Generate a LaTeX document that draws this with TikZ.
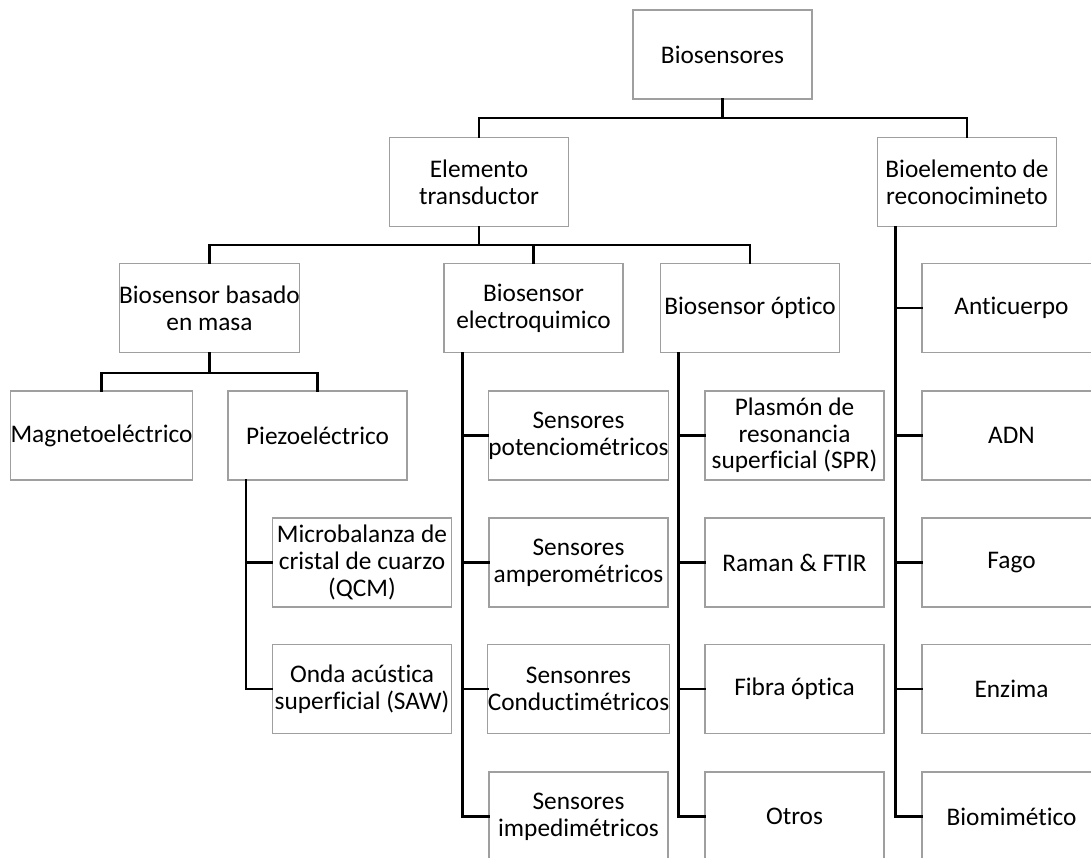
\documentclass[tikz,border=0pt]{standalone}
\usepackage{fontspec}
\setmainfont{Carlito}[Ligatures=NoCommon]
\begin{document}
\begin{tikzpicture}[x=0.75pt,y=-0.75pt,
  box/.style={draw=gray!75,line width=0.8pt,fill=white,minimum width=134.25pt,minimum height=66.75pt,
    inner sep=0pt,align=center,font=\fontsize{19}{20}\selectfont},
  conn/.style={line width=2.2pt,black,line cap=rect}]
\useasboundingbox (0,0) rectangle (1091,857);
\begin{scope}
\clip (0,0) rectangle (1091,857);
% level 0
\node[box] (bio) at (722.5,54.5) {Biosensores};
% level 1
\node[box] (elem) at (479,182) {Elemento\\transductor};
\node[box] (bioel) at (967,182) {Bioelemento de\\reconocimineto};
% level 2
\node[box] (masa) at (209.5,308) {Biosensor basado\\en masa};
\node[box] (elec) at (533.5,308) {Biosensor\\electroquimico};
\node[box] (opt) at (750,308) {Biosensor óptico};
\node[box] (anti) at (1011.5,308) {Anticuerpo};
% level 3
\node[box] (mag) at (101.5,435.5) {Magnetoeléctrico};
\node[box] (piezo) at (317.5,435.5) {Piezoeléctrico};
\node[box] (pot) at (578.5,435.5) {Sensores\\potenciométricos};
\node[box] (spr) at (794.5,435.5) {Plasmón de\\resonancia\\superficial (SPR)};
\node[box] (adn) at (1011.5,435.5) {ADN};
% level 4
\node[box] (qcm) at (362,562.5) {Microbalanza de\\cristal de cuarzo\\(QCM)};
\node[box] (amp) at (578.5,562.5) {Sensores\\amperométricos};
\node[box] (raman) at (794.5,562.5) {Raman \& FTIR};
\node[box] (fago) at (1011.5,562.5) {Fago};
% level 5
\node[box] (saw) at (362,689) {Onda acústica\\superficial (SAW)};
\node[box] (cond) at (578.5,689) {Sensonres\\Conductimétricos};
\node[box] (fibra) at (794.5,689) {Fibra óptica};
\node[box] (enz) at (1011.5,689) {Enzima};
% level 6
\node[box] (imp) at (578.5,816.5) {Sensores\\impedimétricos};
\node[box] (otros) at (794.5,816.5) {Otros};
\node[box] (biom) at (1011.5,816.5) {Biomimético};
\end{scope}
% junctions
\coordinate (j1) at (722.5,118);
\coordinate (j2) at (479,245);
\coordinate (j3) at (209.5,373);
\coordinate (p0) at (246,480);
\coordinate (e0) at (462.5,353);
\coordinate (o0) at (678.5,353);
\coordinate (b0) at (895.5,227);
% connectors
\draw[conn] (bio.south) -- (j1);
\draw[conn] (elem.north) |- (j1) -| (bioel.north);
\draw[conn] (elem.south) -- (j2);
\draw[conn] (masa.north) |- (j2) -| (opt.north);
\draw[conn] (elec.north) -- (elec.north |- j2);
\draw[conn] (masa.south) -- (j3);
\draw[conn] (mag.north) |- (j3) -| (piezo.north);
\draw[conn] (p0) |- (qcm.west);
\draw[conn] (p0) |- (saw.west);
\draw[conn] (e0) |- (pot.west);
\draw[conn] (e0) |- (amp.west);
\draw[conn] (e0) |- (cond.west);
\draw[conn] (e0) |- (imp.west);
\draw[conn] (o0) |- (spr.west);
\draw[conn] (o0) |- (raman.west);
\draw[conn] (o0) |- (fibra.west);
\draw[conn] (o0) |- (otros.west);
\draw[conn] (b0) |- (anti.west);
\draw[conn] (b0) |- (adn.west);
\draw[conn] (b0) |- (fago.west);
\draw[conn] (b0) |- (enz.west);
\draw[conn] (b0) |- (biom.west);
\end{tikzpicture}
\end{document}
